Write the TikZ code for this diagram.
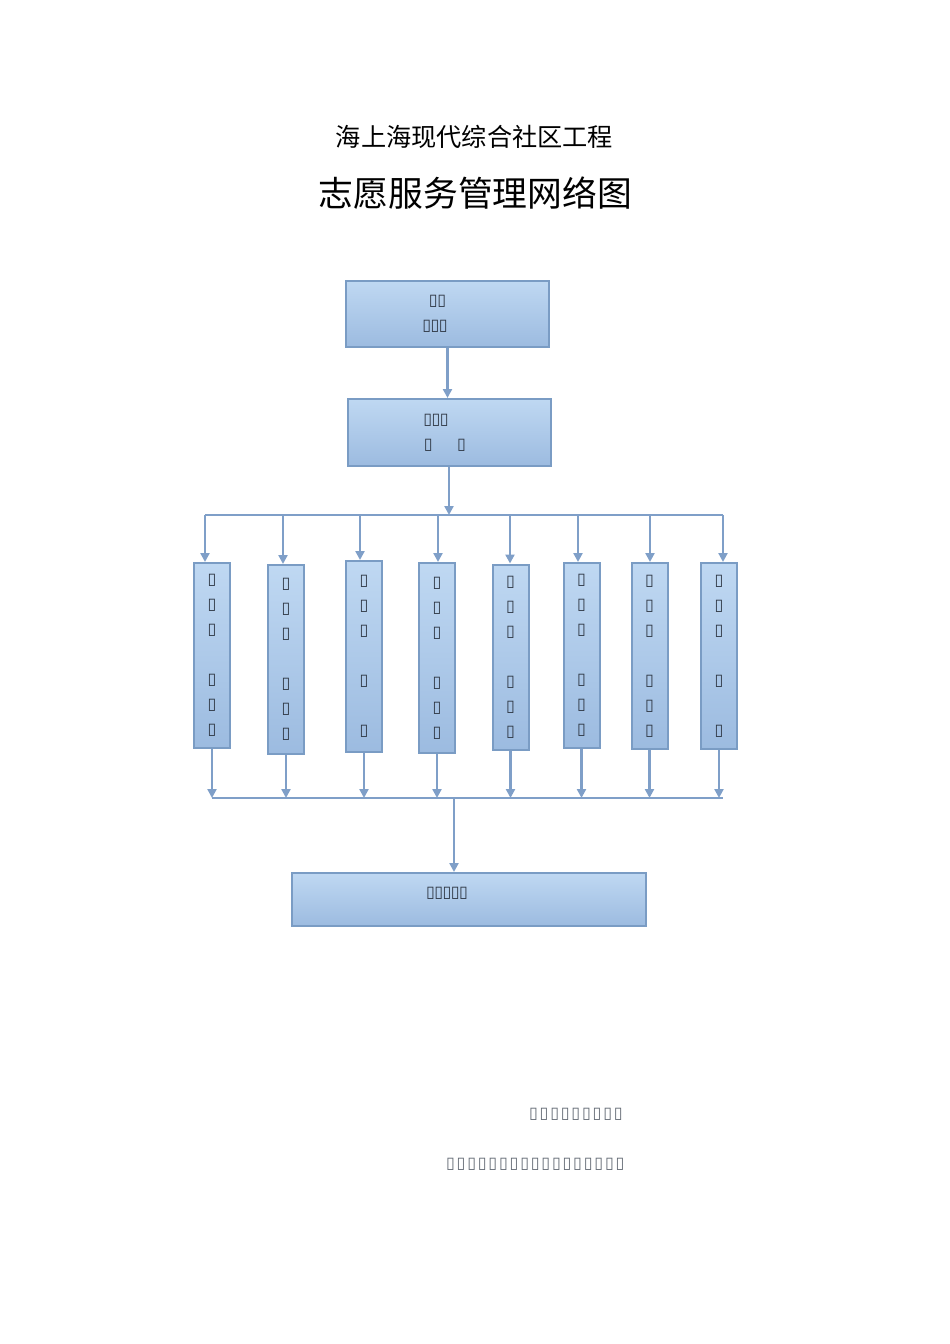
\documentclass[tikz,border=0pt]{standalone}
\usepackage{fontspec}
\setmainfont{Noto Sans CJK SC}
\newfontfamily\boxfont{DejaVu Sans}
\usetikzlibrary{positioning, arrows.meta}
\usepackage{xcolor}
\definecolor{boxtop}{HTML}{BFD8F2}
\definecolor{boxbot}{HTML}{9CBBE0}
\definecolor{boxline}{HTML}{7A9CC4}
\definecolor{linkline}{HTML}{7F9FC8}
\definecolor{tofugray}{HTML}{2E3744}
\newcommand{\tf}{\makebox[8.3pt]{\boxfont\fontsize{16}{18}\selectfont ▯}}
\newcommand{\gt}{\makebox[10.6pt]{\boxfont\fontsize{16}{18}\selectfont ▯}}

\begin{document}
\begin{tikzpicture}[x=1pt, y=-1pt,
    blk/.style={draw=boxline, line width=2pt, top color=boxtop, bottom color=boxbot,
      inner sep=0pt, align=center, text=tofugray, font=\fontsize{10}{25}\selectfont},
    col/.style={blk, minimum width=36pt},
    arr/.style={draw=linkline, line width=2.6pt, -{Triangle[width=9pt,length=9pt]}},
    bus/.style={draw=linkline, line width=2.6pt}]
	\useasboundingbox (0,0) rectangle (950,1344);
	% titles
	\node (t1) at (474.5,137) {\fontsize{25.2}{30}\selectfont 海上海现代综合社区工程};
	\node (t2) at (475.5,193) {\fontsize{34.8}{40}\selectfont 志愿服务管理网络图};
	% top boxes
	\node[blk, minimum width=203pt, minimum height=66pt] (a) at (447.5,314) {\tf\tf\hspace*{20pt}\\\tf\tf\tf\hspace*{25pt}};
	\node[blk, minimum width=203pt, minimum height=67pt] (b) at (449.5,432.5) {\tf\tf\tf\hspace*{27pt}\\\tf\hspace*{25pt}\tf\hspace*{9pt}};
	% columns
	\node[col, minimum height=185pt] (v1) at (212,655.5) {\tf\\\tf\\\tf\\\mbox{}\\\tf\\\tf\\\tf};
	\node[col, minimum height=189pt] (v2) at (286,659.5) {\tf\\\tf\\\tf\\\mbox{}\\\tf\\\tf\\\tf};
	\node[col, minimum height=191pt] (v3) at (364,656.5) {\tf\\\tf\\\tf\\\mbox{}\\\tf\\\mbox{}\\\tf};
	\node[col, minimum height=190pt] (v4) at (437,658) {\tf\\\tf\\\tf\\\mbox{}\\\tf\\\tf\\\tf};
	\node[col, minimum height=185pt] (v5) at (510.5,657) {\tf\\\tf\\\tf\\\mbox{}\\\tf\\\tf\\\tf};
	\node[col, minimum height=185pt] (v6) at (581.5,655.5) {\tf\\\tf\\\tf\\\mbox{}\\\tf\\\tf\\\tf};
	\node[col, minimum height=186pt] (v7) at (649.5,656) {\tf\\\tf\\\tf\\\mbox{}\\\tf\\\tf\\\tf};
	\node[col, minimum height=186pt] (v8) at (719,656) {\tf\\\tf\\\tf\\\mbox{}\\\tf\\\mbox{}\\\tf};
	% bottom box
	\node[blk, minimum width=354pt, minimum height=53pt] (c) at (469,899.5) {};
	\node[text=tofugray, inner sep=0pt] (ct) at (447,893) {\tf\tf\tf\tf\tf};
	% footer
	\node[anchor=west, inner sep=0pt, text=tofugray!75] (f1) at (528,1114) {\gt\gt\gt\gt\gt\gt\gt\gt\gt};
	\node[anchor=west, inner sep=0pt, text=tofugray!75] (f2) at (445,1164) {\gt\gt\gt\gt\gt\gt\gt\gt\gt\gt\gt\gt\gt\gt\gt\gt\gt};
	% connectors
	\coordinate (s) at (449,515);
	\coordinate (d1) at (205,515);
	\coordinate (d2) at (283,515);
	\coordinate (d3) at (360,515);
	\coordinate (d4) at (438,515);
	\coordinate (d5) at (510,515);
	\coordinate (d6) at (578,515);
	\coordinate (d7) at (650,515);
	\coordinate (d8) at (723,515);
	\coordinate (u1) at (212,798);
	\coordinate (u8) at (723,798);
	\coordinate (m) at (454,798);
	\draw[arr] (a.south) -- (a.south |- b.north);
	\draw[arr] (b.south -| s) -- (s);
	\draw[bus] (d1) -- (d8);
	\draw[arr] (d1) -- (d1 |- v1.north);
	\draw[arr] (d2) -- (d2 |- v2.north);
	\draw[arr] (d3) -- (d3 |- v3.north);
	\draw[arr] (d4) -- (d4 |- v4.north);
	\draw[arr] (d5) -- (d5 |- v5.north);
	\draw[arr] (d6) -- (d6 |- v6.north);
	\draw[arr] (d7) -- (d7 |- v7.north);
	\draw[arr] (d8) -- (d8 |- v8.north);
	\draw[arr] (v1.south) -- (v1.south |- u1);
	\draw[arr] (v2.south) -- (v2.south |- u1);
	\draw[arr] (v3.south) -- (v3.south |- u1);
	\draw[arr] (v4.south) -- (v4.south |- u1);
	\draw[arr] (v5.south) -- (v5.south |- u1);
	\draw[arr] (v6.south) -- (v6.south |- u1);
	\draw[arr] (v7.south) -- (v7.south |- u1);
	\draw[arr] (v8.south) -- (v8.south |- u1);
	\draw[bus] (u1) -- (u8);
	\draw[arr] (m) -- (m |- c.north);
\end{tikzpicture}
\end{document}
